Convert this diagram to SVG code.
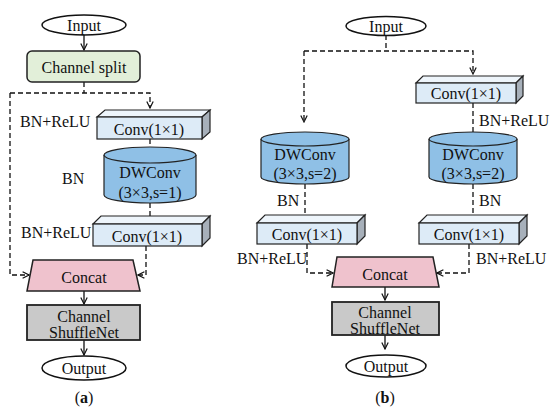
<svg xmlns="http://www.w3.org/2000/svg" width="550" height="413" viewBox="0 0 550 413" font-family="'Liberation Serif', 'Times New Roman', 'DejaVu Serif', serif">
<style>
text{font-family:'Liberation Serif','Times New Roman','DejaVu Serif',serif;font-size:16px;fill:#111;text-anchor:middle;dominant-baseline:central}
.lbl{text-anchor:start}
.ell{fill:#fff;stroke:#111;stroke-width:1.5}
.split{fill:#e2efd9;stroke:#222;stroke-width:1.5}
.front{fill:#ddebf7;stroke:#222;stroke-width:1.2}
.top{fill:#eef5fb;stroke:#222;stroke-width:1.2}
.side{fill:#a7b0ba;stroke:#222;stroke-width:1.2}
.cyl{fill:#8fc0e6;stroke:#222;stroke-width:1.2}
.cat{fill:#efc2cd;stroke:#222;stroke-width:1.5}
.shuf{fill:#c9c9c9;stroke:#222;stroke-width:1.8}
.solid{fill:none;stroke:#111;stroke-width:1.3}
.dash{fill:none;stroke:#111;stroke-width:1.3;stroke-dasharray:5,3}
</style>
<defs>
<marker id="ah" viewBox="0 0 10 10" refX="9" refY="5" markerWidth="8" markerHeight="8" markerUnits="userSpaceOnUse" orient="auto">
<path d="M1,1 L9,5 L1,9" fill="none" stroke="#111" stroke-width="1.5"/>
</marker>
</defs>

<g id="connectors">
<line class="solid" x1="84" y1="35" x2="84" y2="50" marker-end="url(#ah)"/>
<path class="dash" d="M84,82 V93 M10,93 H150 V108" marker-end="url(#ah)"/>
<line class="dash" x1="150" y1="139" x2="150" y2="147"/>
<line class="dash" x1="150" y1="203" x2="150" y2="216"/>
<path class="dash" d="M10,93 V275 H29" marker-end="url(#ah)"/>
<path class="dash" d="M146,246 V275 H138" marker-end="url(#ah)"/>
<line class="solid" x1="84" y1="291" x2="84" y2="304" marker-end="url(#ah)"/>
<line class="solid" x1="84" y1="340" x2="84" y2="355" marker-end="url(#ah)"/>
<path class="dash" d="M386,35 V51 M304,51 H473 V74" marker-end="url(#ah)"/>
<path class="dash" d="M304,51 V122" marker-end="url(#ah)"/>
<line class="dash" x1="473" y1="103" x2="473" y2="133"/>
<line class="dash" x1="305" y1="184" x2="305" y2="215"/>
<line class="dash" x1="473" y1="184" x2="473" y2="215"/>
<path class="dash" d="M307,244 V273 H333" marker-end="url(#ah)"/>
<path class="dash" d="M469,244 V273 H437" marker-end="url(#ah)"/>
<line class="solid" x1="385" y1="287" x2="385" y2="300" marker-end="url(#ah)"/>
<line class="solid" x1="385" y1="335" x2="385" y2="349" marker-end="url(#ah)"/>
</g>

<g id="a-input"><ellipse class="ell" cx="84" cy="25" rx="42" ry="10"/><text x="84" y="25">Input</text></g>
<g id="a-split"><rect class="split" x="27" y="51" width="113" height="31" rx="5"/><text x="84" y="67">Channel split</text></g>
<g id="a-conv1">
<polygon class="top" points="97,117 105,110 210,110 202,117"/>
<polygon class="side" points="202,117 210,110 210,132 202,139"/>
<rect class="front" x="97" y="117" width="105" height="22"/>
<text x="149" y="129">Conv(1×1)</text>
</g>
<text class="lbl" x="20" y="121">BN+ReLU</text>
<g id="a-dwconv">
<path class="cyl" d="M104,155 V195 A46,8 0 0 0 196,195 V155"/>
<ellipse class="cyl" cx="150" cy="155" rx="46" ry="8"/>
<text x="150" y="172">DWConv</text>
<text x="150" y="192">(3×3,s=1)</text>
</g>
<text class="lbl" x="62" y="178">BN</text>
<g id="a-conv2">
<polygon class="top" points="93,224 101,216 210,216 202,224"/>
<polygon class="side" points="202,224 210,216 210,238 202,246"/>
<rect class="front" x="93" y="224" width="109" height="22"/>
<text x="147" y="236">Conv(1×1)</text>
</g>
<text class="lbl" x="21" y="232">BN+ReLU</text>
<g id="a-concat"><polygon class="cat" points="33,260 133,260 140,291 27,291"/><text x="84" y="277">Concat</text></g>
<g id="a-shuffle"><rect class="shuf" x="27" y="305" width="113" height="35"/><text x="84" y="316">Channel</text><text x="84" y="332">ShuffleNet</text></g>
<g id="a-output"><ellipse class="ell" cx="84" cy="368" rx="42" ry="12"/><text x="84" y="368">Output</text></g>
<text x="84" y="397">(<tspan font-weight="bold">a</tspan>)</text>

<g id="b-input"><ellipse class="ell" cx="386" cy="26" rx="40" ry="9.5"/><text x="386" y="26">Input</text></g>
<g id="b-conv-top">
<polygon class="top" points="416,83 423,76 523,76 516,83"/>
<polygon class="side" points="516,83 523,76 523,96 516,103"/>
<rect class="front" x="416" y="83" width="100" height="20"/>
<text x="466" y="93">Conv(1×1)</text>
</g>
<text class="lbl" x="479" y="120">BN+ReLU</text>
<g id="b-dwconv-left">
<path class="cyl" d="M261,139 V177 A44,7 0 0 0 349,177 V139"/>
<ellipse class="cyl" cx="305" cy="139" rx="44" ry="7"/>
<text x="305" y="154">DWConv</text>
<text x="305" y="173">(3×3,s=2)</text>
</g>
<g id="b-dwconv-right">
<path class="cyl" d="M429,139 V177 A44,7 0 0 0 517,177 V139"/>
<ellipse class="cyl" cx="473" cy="139" rx="44" ry="7"/>
<text x="473" y="154">DWConv</text>
<text x="473" y="173">(3×3,s=2)</text>
</g>
<text class="lbl" x="277" y="200">BN</text>
<text class="lbl" x="479" y="200">BN</text>
<g id="b-conv-left">
<polygon class="top" points="257,223 265,215 365,215 357,223"/>
<polygon class="side" points="357,223 365,215 365,236 357,244"/>
<rect class="front" x="257" y="223" width="100" height="21"/>
<text x="307" y="234">Conv(1×1)</text>
</g>
<g id="b-conv-right">
<polygon class="top" points="419,223 427,215 527,215 519,223"/>
<polygon class="side" points="519,223 527,215 527,236 519,244"/>
<rect class="front" x="419" y="223" width="100" height="21"/>
<text x="469" y="234">Conv(1×1)</text>
</g>
<text class="lbl" x="237" y="258">BN+ReLU</text>
<text class="lbl" x="476" y="258">BN+ReLU</text>
<g id="b-concat"><polygon class="cat" points="337,257 433,257 439,287 332,287"/><text x="385" y="274">Concat</text></g>
<g id="b-shuffle"><rect class="shuf" x="332" y="302" width="107" height="33"/><text x="385" y="312">Channel</text><text x="385" y="328">ShuffleNet</text></g>
<g id="b-output"><ellipse class="ell" cx="386" cy="366" rx="40" ry="11"/><text x="386" y="366">Output</text></g>
<text x="385" y="397">(<tspan font-weight="bold">b</tspan>)</text>
</svg>
